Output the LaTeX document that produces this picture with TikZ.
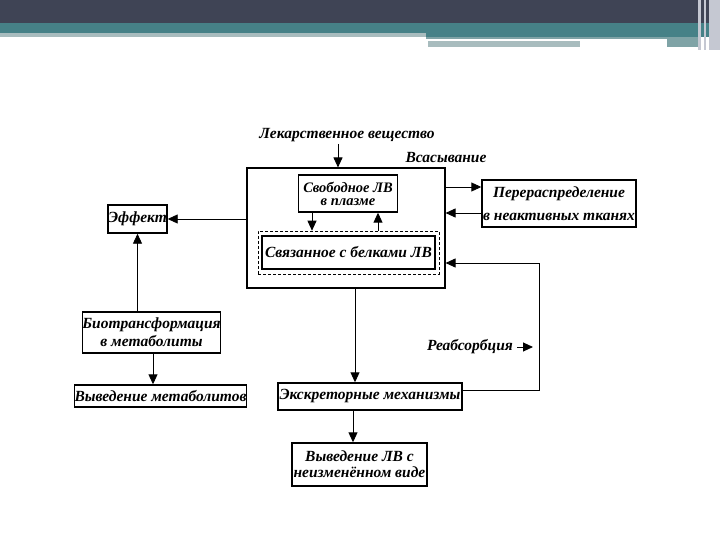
\documentclass[tikz,border=0pt]{standalone}
\usepackage{fontspec}
\setmainfont{Liberation Serif}
\newfontfamily\rf{Liberation Serif}
\usetikzlibrary{arrows.meta}
\definecolor{hdark}{HTML}{3F4455}
\definecolor{hteal}{HTML}{468187}
\definecolor{hgray}{HTML}{A8BCBE}
\definecolor{hmid}{HTML}{7FA3A6}
\definecolor{hlight}{HTML}{C5C8D2}
\begin{document}
\begin{tikzpicture}[x=1pt,y=-1pt,
  lbl/.style={font=\rf\bfseries\itshape\fontsize{15.5}{16}\selectfont, inner sep=0pt, align=center},
  box/.style={draw, line width=1.4pt, inner sep=0pt, align=center, lbl},
  arr/.style={line width=0.9pt, -{Triangle[length=10pt,width=9pt]}},
  ln/.style={line width=0.9pt}]
\useasboundingbox (0,0) rectangle (720,540);
% header
\fill[hdark] (0,0) rectangle (720,23);
\fill[hteal] (0,23) rectangle (720,33);
\fill[hgray] (0,33) rectangle (426,37);
\fill[hteal] (426,33) rectangle (720,37);
\fill[hmid] (426,37) rectangle (700,39);
\fill[hgray] (428,41) rectangle (580,47);
\fill[hmid] (667,39) rectangle (698,47);
\fill[hlight] (698,0) rectangle (701,50);
\fill[hlight] (704,0) rectangle (706,50);
\fill[hlight] (709,0) rectangle (720,50);
% nodes
\node[draw, line width=1.1pt, minimum width=198pt, minimum height=120pt, inner sep=0pt] (big) at (346,228) {};
\node[box, font=\rf\bfseries\itshape\fontsize{14.5}{13}\selectfont, minimum width=99pt, minimum height=37pt] (free) at (348,193.5) {Свободное ЛВ\\в плазме};
\node[draw, dashed, dash pattern=on 3pt off 2pt, line width=0.6pt, minimum width=181pt, minimum height=43pt, inner sep=0pt] (boundout) at (348.5,252.5) {};
\node[box, line width=1.8pt, minimum width=173pt, minimum height=33pt] (bound) at (348.5,252.5) {Связанное с белками ЛВ};
\node[box, minimum width=154pt, minimum height=47pt] (redis) at (559,203.5) {Перераспределение\\[7pt]в неактивных тканях};
\node[box, minimum width=59pt, minimum height=28pt] (effect) at (137.5,219) {Эффект};
\node[box, minimum width=137pt, minimum height=41pt] (bio) at (151.5,332.5) {Биотрансформация\\[2pt]в метаболиты};
\node[box, minimum width=167pt, minimum height=22pt] (met) at (160.5,396) {Выведение метаболитов};
\node[box, minimum width=184pt, minimum height=27pt] (excr) at (370,396.5) {Экскреторные механизмы};
\node[box, minimum width=135pt, minimum height=43pt] (unch) at (359.5,464.5) {Выведение ЛВ с\\[0pt]неизменённом виде};
\node[lbl] (drug) at (347,135) {Лекарственное вещество};
\node[lbl] (vsas) at (446,158) {Всасывание};
\node[lbl] (reabs) at (470,347) {Реабсорбция};
\coordinate (rtip) at (533,347);
\coordinate (rin) at ([yshift=16.5pt]redis.west);
\coordinate (rout) at ([yshift=-9.5pt]redis.west);
% connectors
\draw[arr] ([xshift=-9pt,yshift=-2pt]drug.south) -- ([xshift=-9pt]drug.south |- big.north);
\draw[arr] (big.east |- rin) -- (rin);
\draw[arr] (rout) -- (big.east |- rout);
\draw[arr] (big.west |- effect.east) -- (effect.east);
\draw[arr] (bio.north -| effect.south) -- (effect.south);
\draw[arr] ([xshift=1.5pt]bio.south) -- ([xshift=1.5pt]bio.south |- met.north);
\draw[arr] ([xshift=-36pt]free.south) -- ([xshift=-36pt]free.south |- boundout.north);
\draw[arr] ([xshift=30pt]free.south |- boundout.north) -- ([xshift=30pt]free.south);
\draw[arr] ([xshift=9pt]big.south) -- ([xshift=9pt]big.south |- excr.north);
\draw[arr] ([xshift=-17pt]excr.south) -- ([xshift=-17pt]excr.south |- unch.north);
\draw[arr] ([yshift=6.5pt]excr.east) -- ++(77,0) |- ([yshift=-35pt]big.east);
\draw[arr] ([xshift=4pt]reabs.east) -- (rtip);
\end{tikzpicture}
\end{document}
